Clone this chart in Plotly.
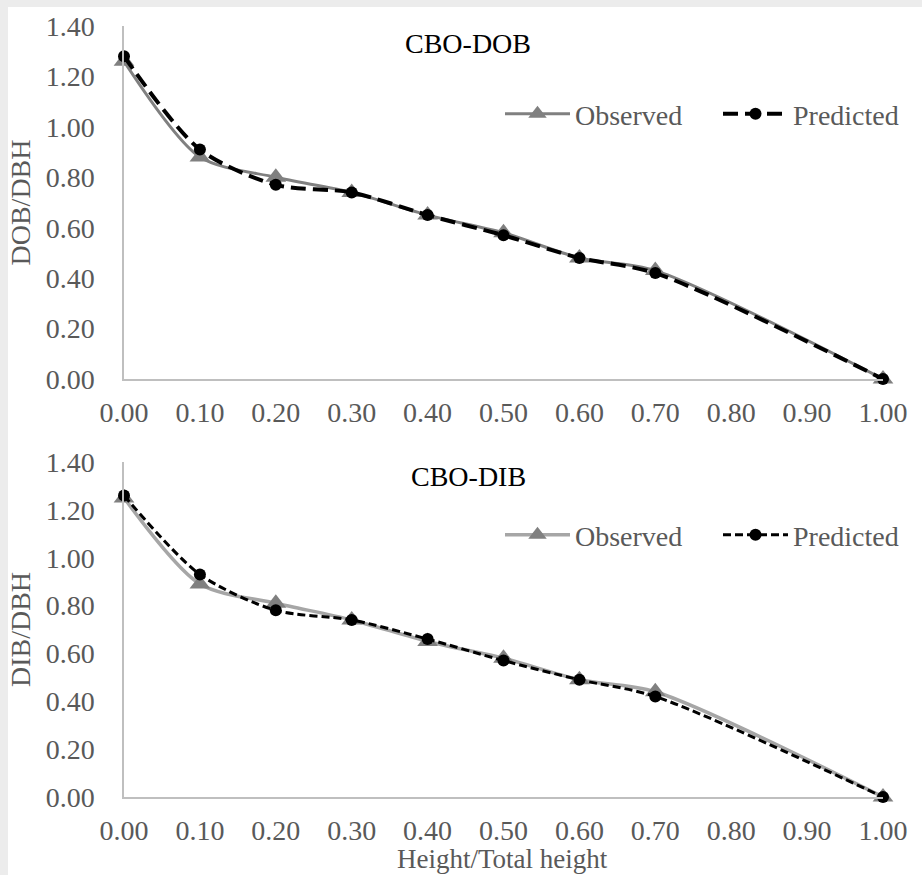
import plotly.graph_objects as go

# ---------------- data ----------------
height_ratio = [0.0, 0.1, 0.2, 0.3, 0.4, 0.5, 0.6, 0.7, 1.0]

dob_observed = [1.26, 0.88, 0.80, 0.74, 0.65, 0.58, 0.48, 0.43, 0.00]
dob_predicted = [1.28, 0.91, 0.77, 0.74, 0.65, 0.57, 0.48, 0.42, 0.00]

dib_observed = [1.25, 0.89, 0.81, 0.74, 0.65, 0.58, 0.49, 0.44, 0.00]
dib_predicted = [1.26, 0.93, 0.78, 0.74, 0.66, 0.57, 0.49, 0.42, 0.00]

panel_titles = ["CBO-DOB", "CBO-DIB"]
y_titles = ["DOB/DBH", "DIB/DBH"]
x_title = "Height/Total height"

# ---------------- styling ----------------
W, H = 922, 875
FONT = "Liberation Serif"
TXT = "#595959"
FS = 28

def px_x(p):
    return p / W

def px_y(p):
    return 1 - p / H

fig = go.Figure()

# top panel
fig.add_trace(go.Scatter(
    x=height_ratio, y=dob_observed, name="Observed", mode="lines+markers",
    line=dict(color="#808080", width=3, shape="spline", smoothing=0.8),
    marker=dict(symbol="triangle-up", size=18, color="#808080"),
    xaxis="x", yaxis="y", legend="legend", cliponaxis=False))
fig.add_trace(go.Scatter(
    x=height_ratio, y=dob_predicted, name="Predicted", mode="lines+markers",
    line=dict(color="#000000", width=4, dash="15px,7px", shape="spline", smoothing=0.8),
    marker=dict(symbol="circle", size=12, color="#000000"),
    xaxis="x", yaxis="y", legend="legend", cliponaxis=False))

# bottom panel
fig.add_trace(go.Scatter(
    x=height_ratio, y=dib_observed, name="Observed", mode="lines+markers",
    line=dict(color="#a6a6a6", width=3.5, shape="spline", smoothing=0.8),
    marker=dict(symbol="triangle-up", size=18, color="#808080"),
    xaxis="x2", yaxis="y2", legend="legend2", cliponaxis=False))
fig.add_trace(go.Scatter(
    x=height_ratio, y=dib_predicted, name="Predicted", mode="lines+markers",
    line=dict(color="#000000", width=3, dash="8px,4px", shape="spline", smoothing=0.8),
    marker=dict(symbol="circle", size=12, color="#000000"),
    xaxis="x2", yaxis="y2", legend="legend2", cliponaxis=False))

common_x = dict(
    range=[0, 1], dtick=0.1, tick0=0, tickformat=".2f", showgrid=False, zeroline=False,
    showline=True, linecolor="#bfbfbf", linewidth=1.5, ticks="",
    tickfont=dict(family=FONT, size=FS, color=TXT), ticklabelstandoff=8,
    fixedrange=True, automargin=False,
)
common_y = dict(
    range=[0, 1.4], dtick=0.2, tick0=0, tickformat=".2f", showgrid=False, zeroline=False,
    showline=True, linecolor="#bfbfbf", linewidth=1.5, ticks="",
    tickfont=dict(family=FONT, size=FS, color=TXT), ticklabelstandoff=22,
    fixedrange=True, automargin=False,
)

xd = [px_x(124), px_x(883)]

leg_common = dict(orientation="h", xanchor="left", yanchor="middle",
                  font=dict(family=FONT, size=FS, color=TXT), bgcolor="rgba(0,0,0,0)",
                  itemwidth=65, entrywidth=138, entrywidthmode="pixels",
                  traceorder="normal")

fig.update_layout(
    width=W, height=H,
    margin=dict(l=0, r=0, t=0, b=0, pad=0, autoexpand=False),
    paper_bgcolor="white", plot_bgcolor="white",
    font=dict(family=FONT, size=FS, color=TXT),
    xaxis=dict(domain=xd, anchor="y", **common_x),
    yaxis=dict(domain=[px_y(379), px_y(26)], anchor="x",
               title=dict(text=y_titles[0], font=dict(family=FONT, size=FS, color=TXT), standoff=7),
               **common_y),
    xaxis2=dict(domain=xd, anchor="y2", **common_x),
    yaxis2=dict(domain=[px_y(797), px_y(462)], anchor="x2",
                title=dict(text=y_titles[1], font=dict(family=FONT, size=FS, color=TXT), standoff=7),
                **common_y),
    legend=dict(x=px_x(500), y=px_y(114), **leg_common),
    legend2=dict(x=px_x(500), y=px_y(535), **leg_common),
    showlegend=True,
    annotations=[
        dict(text=panel_titles[0], xref="paper", yref="paper", x=px_x(468), y=px_y(44),
             showarrow=False, xanchor="center", yanchor="middle",
             font=dict(family=FONT, size=FS, color="#000000")),
        dict(text=panel_titles[1], xref="paper", yref="paper", x=px_x(468), y=px_y(476),
             showarrow=False, xanchor="center", yanchor="middle",
             font=dict(family=FONT, size=FS, color="#000000")),
        dict(text=x_title, xref="paper", yref="paper", x=px_x(503), y=0,
             showarrow=False, xanchor="center", yanchor="bottom", borderpad=0,
             font=dict(family=FONT, size=27, color=TXT)),
    ],
    shapes=[
        dict(type="rect", xref="paper", yref="paper", x0=0, x1=px_x(8), y0=0, y1=1,
             fillcolor="#ececec", line=dict(width=0), layer="above"),
        dict(type="rect", xref="paper", yref="paper", x0=0, x1=1, y0=px_y(7), y1=1,
             fillcolor="#ececec", line=dict(width=0), layer="above"),
    ],
)

fig.write_html("out.html", config={"displayModeBar": False},
               post_script="document.body.style.margin='0';document.body.style.overflow='hidden';")
